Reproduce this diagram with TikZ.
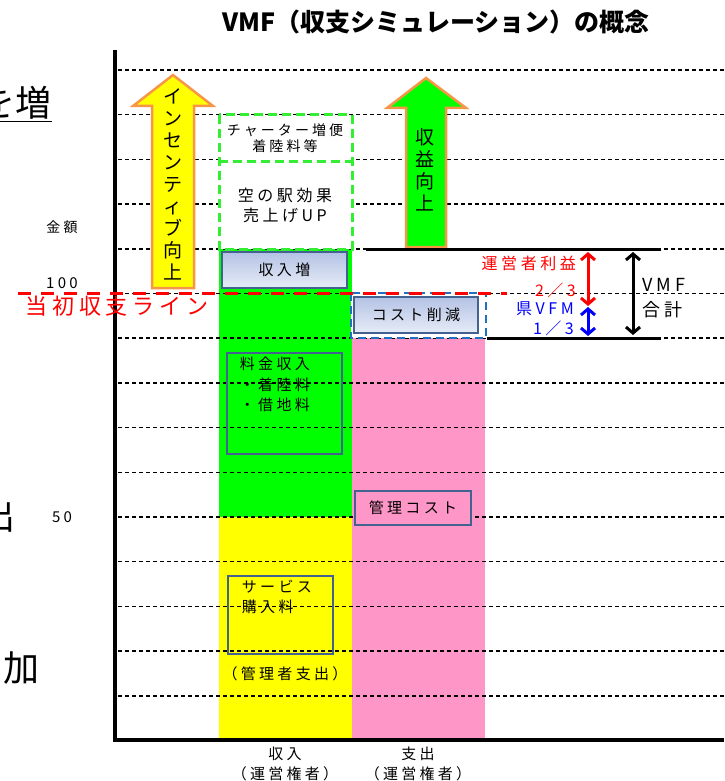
\documentclass[tikz,border=0pt]{standalone}
\usepackage{fontspec}
\setmainfont{Noto Sans CJK JP}
\newfontfamily\jpsp[LetterSpace=22]{Noto Sans CJK JP}
\usetikzlibrary{arrows.meta,positioning,calc}
\definecolor{barGreen}{HTML}{00FF00}
\definecolor{barYellow}{HTML}{FFFF00}
\definecolor{barPink}{HTML}{FF96C8}
\definecolor{dashGreen}{HTML}{33EE33}
\definecolor{dashBlue}{HTML}{1F70C0}
\definecolor{lineRed}{HTML}{FF0000}
\definecolor{boxLine}{HTML}{44628F}
\definecolor{gradTop}{HTML}{B4C2E4}
\definecolor{gradBot}{HTML}{E6ECF7}
\definecolor{arrowOrange}{HTML}{F79646}
\definecolor{vfmBlue}{HTML}{0000FF}

\begin{document}
\begin{tikzpicture}[
    x=1pt, y=-1pt,
    gridline/.style={line width=1.5pt, dash pattern=on 4pt off 3pt},
    axisline/.style={line width=3.5pt},
    solidline/.style={line width=3pt},
    redline/.style={draw=lineRed, line width=3pt, dash pattern=on 13pt off 10pt},
    greendash/.style={draw=dashGreen, fill=white, line width=3pt, dash pattern=on 9pt off 5pt},
    bluedash/.style={draw=dashBlue, fill=white, line width=2.5pt, dash pattern=on 8pt off 5pt},
    gradbox/.style={draw=boxLine, line width=2.5pt, top color=gradTop, bottom color=gradBot, inner sep=0pt, font=\jpsp\fontsize{15}{18}\selectfont},
    planbox/.style={draw=boxLine, line width=2.5pt, inner sep=0pt, font=\jpsp\fontsize{15}{18}\selectfont},
    bigarrow/.style={draw=arrowOrange, line width=2.5pt, line join=miter},
    vtext/.style={align=center, inner sep=0pt, font=\fontsize{19}{22}\selectfont},
    lbl/.style={inner sep=0pt, font=\jpsp\fontsize{15}{20.5}\selectfont},
    ticklbl/.style={inner sep=0pt, font=\jpsp\fontsize{14}{16}\selectfont},
    dblarrow/.style={{Straight Barb[length=6pt,width=14pt]}-{Straight Barb[length=6pt,width=14pt]}, line width=3pt}
]
\useasboundingbox (0,0) rectangle (724,781);
\clip (0,0) rectangle (724,781);

% Title and cut-off side texts
\node[font=\fontsize{25}{28}\selectfont\bfseries] (title) at (436,22) {VMF（収支シミュレーション）の概念};
\node[inner sep=0pt, anchor=east, font=\fontsize{36}{40}\selectfont] (sideA) at (52,104) {\underline{を増}};
\node[inner sep=0pt, anchor=east, font=\fontsize{36}{40}\selectfont] (sideB) at (16,516) {出};
\node[inner sep=0pt, anchor=west, font=\fontsize{36}{40}\selectfont] (sideC) at (3,668) {加};

% Columns
\fill[barGreen] (219,249) rectangle (352,517);
\fill[barYellow] (219,517) rectangle (352,740);
\fill[barPink] (352,338) rectangle (485,740);

% Grid
\foreach \k in {0,...,14}
    \draw[gridline] (118,{70+44.7*\k}) -- (724,{70+44.7*\k});

% Axes
\draw[axisline] (115,50) -- (115,740) -- (724,740);
\node[ticklbl] (amount) at (62,227) {金額};
\node[ticklbl, font=\jpsp\fontsize{15}{16}\selectfont] (tick100) at (62,283) {100};
\node[ticklbl, font=\jpsp\fontsize{15}{16}\selectfont] (tick50) at (62,517) {50};

% Income increase (dashed)
\draw[greendash] (219,115) rectangle (352,249);
\draw[greendash] (219,161) -- (352,161);
\node[lbl, align=center, font=\jpsp\fontsize{14}{16}\selectfont] (charter) at (285,138) {チャーター増便\\着陸料等};
\node[lbl, align=center, font=\jpsp\fontsize{16}{20}\selectfont] (skyStation) at (285,205) {空の駅効果\\売上げUP};
\node[gradbox, minimum width=125pt, minimum height=36pt] (incBox) at (284.5,270) {収入増};

% Cost reduction
\draw[bluedash] (351,293) rectangle (486,338);
\node[gradbox, minimum width=124pt, minimum height=36pt] (costCut) at (416,315) {コスト削減};

% Boxes in columns
\node[planbox, minimum width=115pt, minimum height=101pt] (feeBox) at (284.5,403.5) {};
\node[lbl, align=left, anchor=north west] (feeText) at ([xshift=14pt,yshift=-5pt]feeBox.north west) {料金収入\\・着陸料\\・借地料};
\node[planbox, minimum width=105pt, minimum height=78pt] (serviceBox) at (280.5,615) {};
\node[lbl, align=left, anchor=north west] (serviceText) at ([xshift=15pt,yshift=-5pt]serviceBox.north west) {サービス\\購入料};
\node[lbl] (mgrPay) at (285,674) {（管理者支出）};
\node[planbox, fill=barPink, minimum width=116pt, minimum height=34pt] (mgmtCost) at (413,508) {管理コスト};

% Initial balance line
\draw[redline] (18,293) -- (507,293);
\node[lbl, text=lineRed, font=\jpsp\fontsize{22}{24}\selectfont] (initLine) at (117,306) {当初収支ライン};

% Big arrows
\draw[bigarrow, fill=barYellow] (173,75) -- (213,106) -- (194,106) -- (194,288) -- (152,288) -- (152,106) -- (133,106) -- cycle;
\node[vtext] (incentive) at (173,184) {イ\\ン\\セ\\ン\\テ\\ィ\\ブ\\向\\上};
\draw[bigarrow, fill=barGreen] (426,78) -- (466,108) -- (446,108) -- (446,247) -- (406,247) -- (406,108) -- (387,108) -- cycle;
\node[vtext] (profitUp) at (425,170) {収\\益\\向\\上};

% VMF brackets
\coordinate (topL) at (366,249);
\coordinate (topR) at (661,249);
\coordinate (botL) at (487,338);
\coordinate (botR) at (661,338);
\draw[solidline] (topL) -- (topR);
\draw[solidline] (botL) -- (botR);
\coordinate (redTop) at (588,252);
\coordinate (redBot) at (588,306);
\coordinate (blueTop) at (588,307);
\coordinate (blueBot) at (588,336);
\coordinate (vmfTop) at (633,252);
\coordinate (vmfBot) at (633,335);
\draw[dblarrow, lineRed] (redTop) -- (redBot);
\draw[dblarrow, vfmBlue] (blueTop) -- (blueBot);
\draw[dblarrow] (vmfTop) -- (vmfBot);
\node[lbl, text=lineRed, anchor=east, font=\jpsp\fontsize{16}{20}\selectfont] (opProfit) at (576,263) {運営者利益};
\node[lbl, text=lineRed, anchor=east, font=\jpsp\fontsize{16}{20}\selectfont] (twoThird) at (576,290) {2／3};
\node[lbl, text=vfmBlue, anchor=east, font=\jpsp\fontsize{16}{20}\selectfont] (prefVfm) at (574,309) {県VFM};
\node[lbl, text=vfmBlue, anchor=east, font=\jpsp\fontsize{16}{20}\selectfont] (oneThird) at (574,328) {1／3};
\node[lbl, align=left, anchor=west, font=\jpsp\fontsize{18}{25}\selectfont] (vmfSum) at (642,298) {VMF\\合計};

% Column labels
\node[lbl, align=center] (incLabel) at (285,764) {収入\\（運営権者）};
\node[lbl, align=center] (expLabel) at (418,764) {支出\\（運営権者）};

\end{tikzpicture}
\end{document}
